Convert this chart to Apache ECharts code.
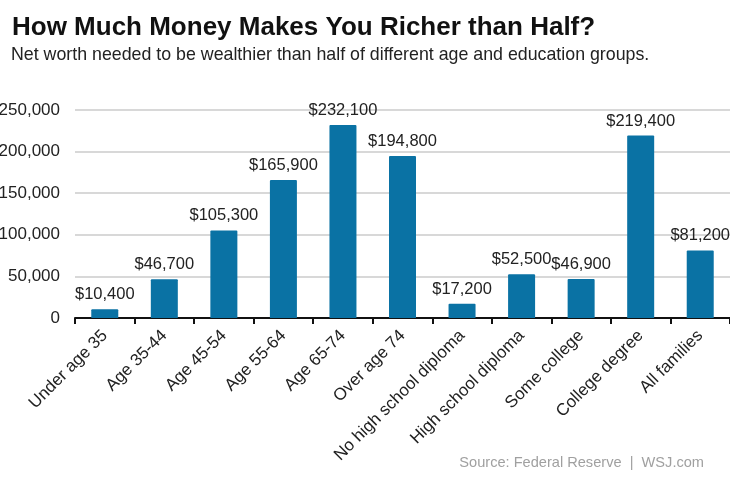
<!DOCTYPE html>
<html><head><meta charset="utf-8">
<script src="https://cdn.jsdelivr.net/npm/echarts@6/dist/echarts.min.js"></script>
<style>html,body{margin:0;padding:0;background:#fff}#c{width:730px;height:478px}</style>
</head><body><div id="c"></div>
<script>
const categories = ["Under age 35","Age 35-44","Age 45-54","Age 55-64","Age 65-74","Over age 74","No high school diploma","High school diploma","Some college","College degree","All families"];
const values = [10400,46700,105300,165900,232100,194800,17200,52500,46900,219400,81200];
const titleText = "How Much Money Makes You Richer than Half?";
const subtitleText = "Net worth needed to be wealthier than half of different age and education groups.";
const sourceText = "Source: Federal Reserve  |  WSJ.com";

const F = 'Liberation Sans, Arial';
const chart = echarts.init(document.getElementById('c'));
chart.setOption({
  animation:false,
  backgroundColor:'#fff',
  title:[
    {text:titleText,left:7,top:10,textStyle:{fontFamily:F,fontWeight:'bold',fontSize:26,color:'#111'}},
    {text:subtitleText,left:6,top:41,textStyle:{fontFamily:F,fontWeight:'normal',fontSize:17.8,color:'#222'}},
    {text:sourceText,right:21,top:450,textStyle:{fontFamily:F,fontWeight:'normal',fontSize:14.6,color:'#a0a0a0'}}
  ],
  grid:{left:75,right:0,top:110,bottom:160,containLabel:false,outerBoundsMode:'none'},
  xAxis:{type:'category',data:categories,
    axisLine:{lineStyle:{color:'#111',width:2}},
    axisTick:{show:true,alignWithLabel:false,length:6,lineStyle:{color:'#111',width:2}},
    axisLabel:{rotate:45,interval:0,fontSize:17,color:'#222',fontFamily:F,margin:15}},
  yAxis:{type:'value',min:0,max:250000,interval:50000,
    axisLine:{show:false},axisTick:{show:false},
    splitLine:{lineStyle:{color:'#d8d8d8',width:2}},
    axisLabel:{fontSize:17,color:'#222',fontFamily:F,margin:15,
      formatter:v=>v.toLocaleString('en-US')}},
  series:[{type:'bar',data:values,barWidth:27,
    itemStyle:{color:'#0a72a4',borderRadius:[1,1,0,0]},
    label:{show:true,position:'top',distance:6,fontSize:16.5,color:'#222',fontFamily:F,
      formatter:p=>'$'+p.value.toLocaleString('en-US')}}]
});
</script></body></html>
